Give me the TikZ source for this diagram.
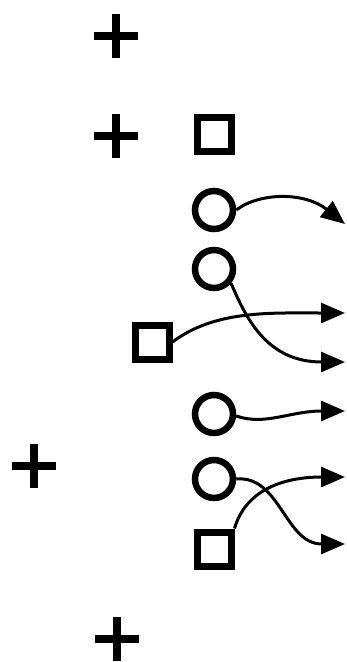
\documentclass[tikz,border=0pt]{standalone}
\usetikzlibrary{arrows.meta,shapes.misc}
\begin{document}
\begin{tikzpicture}[x=1pt,y=-1pt,
  plusmark/.style={cross out,draw,rotate=45,minimum size=23pt,inner sep=0pt,line width=7.5pt},
  ring/.style={circle,draw,minimum size=38pt,inner sep=0pt,line width=6.5pt},
  boxmark/.style={rectangle,draw,minimum size=34pt,inner sep=0pt,line width=7pt},
  flow/.style={line width=3pt,-{Triangle[length=24pt,width=20pt]}}]
\useasboundingbox (0,0) rectangle (347,662);
\node[plusmark] (p1) at (116,36) {};
\node[plusmark] (p2) at (116,136) {};
\node[plusmark] (p3) at (34,466) {};
\node[plusmark] (p4) at (117,639) {};
\node[boxmark] (s1) at (214,134) {};
\node[boxmark] (s2) at (152,342) {};
\node[boxmark] (s3) at (214,549) {};
\node[ring] (c1) at (214,210) {};
\node[ring] (c2) at (214,269) {};
\node[ring] (c3) at (214,414) {};
\node[ring] (c4) at (214,479) {};
\coordinate (t1) at (345,224);
\coordinate (t2) at (345,362);
\coordinate (t3) at (345,313);
\coordinate (t4) at (345,411);
\coordinate (t5) at (345,544);
\coordinate (t6) at (345,477);
\draw[flow] (c1.east) .. controls (260,192) and (305,192) .. (t1);
\draw[flow] (c2.-40) .. controls (245,315) and (265,362) .. (t2);
\draw[flow] (s2.east) .. controls (215,310) and (270,313) .. (t3);
\draw[flow] (c3.-5) .. controls (265,426) and (290,411) .. (t4);
\draw[flow] (c4.east) .. controls (280,475) and (285,544) .. (t5);
\draw[flow] (s3.north east) .. controls (245,492) and (280,477) .. (t6);
\end{tikzpicture}
\end{document}
